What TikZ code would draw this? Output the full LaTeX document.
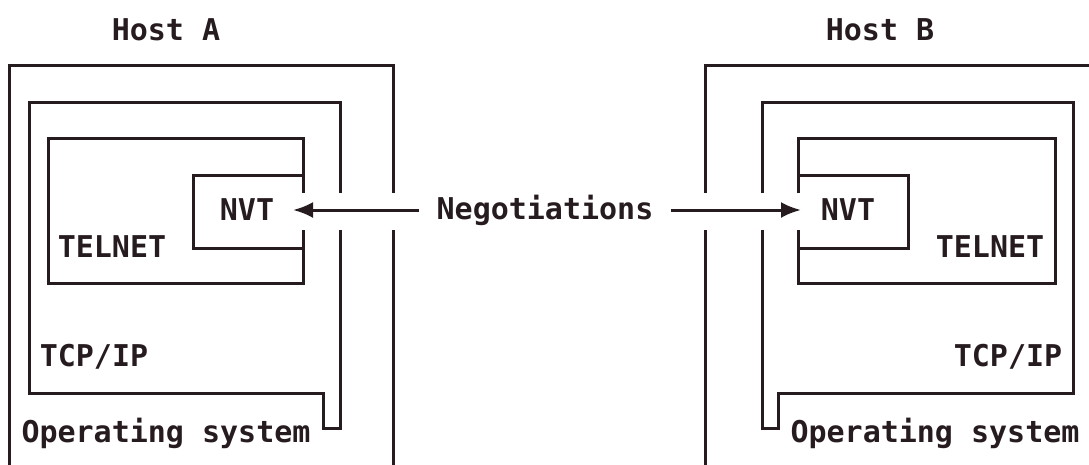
\documentclass[tikz,border=0pt]{standalone}
\usepackage{fontspec}
\setmonofont{DejaVu Sans Mono}
\usetikzlibrary{arrows.meta}
\definecolor{inkDark}{RGB}{38,28,32}

\begin{document}
\begin{tikzpicture}[
  x=1pt, y=-1pt,
  wall/.style={draw=inkDark, line width=3pt, line join=miter},
  lbl/.style={inner sep=0pt, text=inkDark, font=\ttfamily\bfseries\fontsize{30}{30}\selectfont},
  arrow/.style={draw=inkDark, -{Latex[length=20pt,width=16pt]}, line width=3pt}
]
\clip (0,0) rectangle (1089,464);

% Host A
\draw[wall] (393,193) -- (393,65) -- (9,65) -- (9,480);
\draw[wall] (393,230) -- (393,480);
\draw[wall] (340,193) -- (340,102) -- (29,102) -- (29,393) -- (323,393)
  -- (323,428) -- (340,428) -- (340,230);
\draw[wall] (303,193) -- (303,138) -- (48,138) -- (48,283) -- (303,283) -- (303,230);
\draw[wall] (303,175) -- (193,175) -- (193,248) -- (303,248);

\node[lbl] (hostA) at (166,30) {Host A};
\node[lbl] (nvtA) at (247,210) {NVT};
\node[lbl] (telnetA) at (112,247) {TELNET};
\node[lbl] (tcpA) at (94,357) {TCP/IP};
\node[lbl] (osA) at (166,433) {Operating system};

% Host B
\draw[wall] (705,193) -- (705,65) -- (1100,65);
\draw[wall] (705,230) -- (705,480);
\draw[wall] (762,193) -- (762,102) -- (1073,102) -- (1073,393) -- (778,393)
  -- (778,428) -- (762,428) -- (762,230);
\draw[wall] (798,193) -- (798,138) -- (1055,138) -- (1055,283) -- (798,283) -- (798,230);
\draw[wall] (798,175) -- (908,175) -- (908,248) -- (798,248);

\node[lbl] (hostB) at (880,30) {Host B};
\node[lbl] (nvtB) at (848,210) {NVT};
\node[lbl] (telnetB) at (990,247) {TELNET};
\node[lbl] (tcpB) at (1008,357) {TCP/IP};
\node[lbl] (osB) at (935,433) {Operating system};

% negotiations
\node[lbl, inner xsep=17pt] (neg) at (545,210) {Negotiations};
\coordinate (tipA) at (293,210);
\coordinate (tipB) at (801,210);
\draw[arrow] (neg.west) -- (tipA);
\draw[arrow] (neg.east) -- (tipB);
\end{tikzpicture}
\end{document}
